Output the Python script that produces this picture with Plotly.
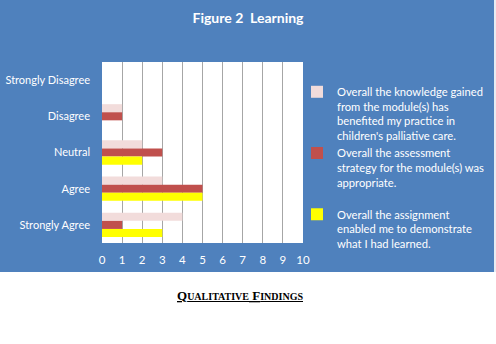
import plotly.graph_objects as go

categories = ["Strongly Disagree", "Disagree", "Neutral", "Agree", "Strongly Agree"]
knowledge = [0, 1, 2, 3, 4]
assessment = [0, 1, 3, 5, 1]
assignment = [0, 0, 2, 5, 3]
series_names = [
    "Overall the knowledge gained<br>from the module(s) has<br>benefited my practice in<br>children's palliative care.",
    "Overall the assessment<br>strategy for the module(s) was<br>appropriate.<br>&nbsp;",
    "Overall the assignment<br>enabled me to demonstrate<br>what I had learned.",
]
colors = ["#F2DCDB", "#C0504D", "#FFFF00"]
x_ticks = list(range(0, 11))

W, H = 496, 344
L, R, T, B = 102, 303, 62, 243
pw, ph = R - L, B - T

FONT = "Lato"
fig = go.Figure()
for vals, name, col in zip([knowledge, assessment, assignment], series_names, colors):
    fig.add_trace(go.Bar(y=categories, x=vals, name=name, orientation="h",
                         marker=dict(color=col, line=dict(width=0))))

fig.update_layout(
    width=W, height=H,
    margin=dict(l=L, r=W - R, t=T, b=H - B, pad=0, autoexpand=False),
    paper_bgcolor="#4F81BD",
    plot_bgcolor="white",
    barmode="group", bargap=0.33, bargroupgap=0,
    font=dict(family=FONT, size=11, color="white"),
    title=dict(text="<b>Figure 2  Learning</b>", x=0.5, xanchor="center",
               y=1 - 18 / H, yanchor="middle", yref="container",
               font=dict(family=FONT, size=14, color="white")),
    xaxis=dict(range=[0, 10], tickvals=x_ticks, showgrid=True, gridcolor="#A6A6A6",
               gridwidth=1, zeroline=False, showline=False, ticks="",
               ticklabelstandoff=8, fixedrange=True, tickfont=dict(size=11.5)),
    yaxis=dict(autorange="reversed", showgrid=False, zeroline=False, showline=False,
               ticks="", ticklabelstandoff=11, tickfont=dict(size=11)),
    legend=dict(x=(297 - L) / pw, xanchor="left", y=(B - 78) / ph, yanchor="top",
                traceorder="normal", valign="top", itemwidth=30, maxheight=300,
                bgcolor="rgba(0,0,0,0)", font=dict(family=FONT, size=11.2, color="white"),
                tracegroupgap=0),
    showlegend=True,
)

# white page regions outside the chart box
fig.add_shape(type="rect", xref="paper", yref="paper",
              x0=-L / pw, x1=(W - L) / pw, y0=(B - H) / ph, y1=(B - 272) / ph,
              fillcolor="white", line=dict(width=0), layer="above")
fig.add_shape(type="rect", xref="paper", yref="paper",
              x0=(494 - L) / pw, x1=(W - L) / pw, y0=(B - 272) / ph, y1=B / ph,
              fillcolor="#E8ECF2", line=dict(width=0), layer="above")

fig.add_annotation(
    text="<b><u>Q<span style='font-size:10px'>UALITATIVE</span> F<span style='font-size:10px'>INDINGS</span></u></b>",
    xref="paper", yref="paper", x=(240 - L) / pw, y=(B - 295) / ph,
    xanchor="center", yanchor="middle", showarrow=False,
    font=dict(family="Liberation Serif", size=13, color="black"))

fig.write_html("out.html")
